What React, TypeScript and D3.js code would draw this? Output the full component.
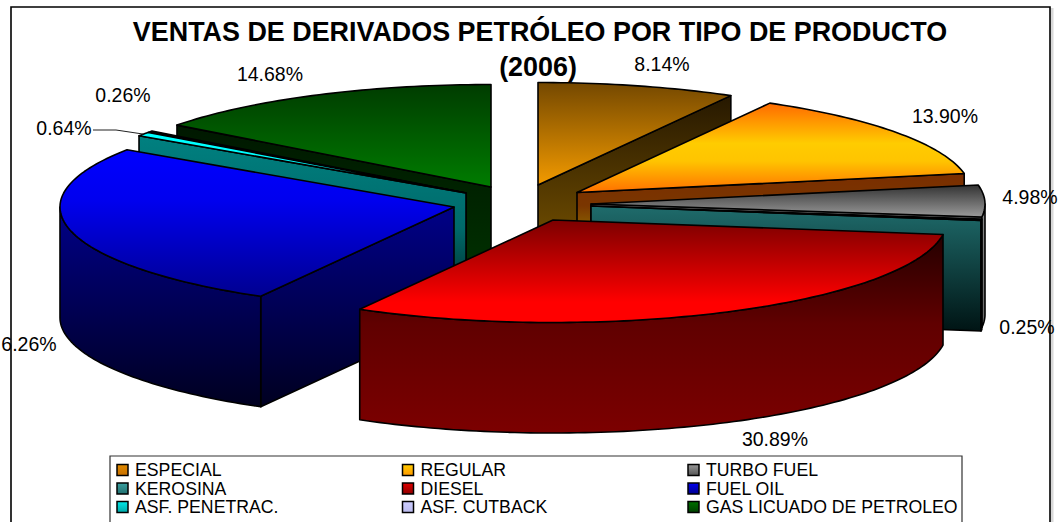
import React from "react";
import * as d3 from "d3";

const categories = ["ESPECIAL", "REGULAR", "TURBO FUEL", "KEROSINA", "DIESEL", "FUEL OIL", "ASF. PENETRAC.", "ASF. CUTBACK", "GAS LICUADO DE PETROLEO"];
const shares = [8.14, 13.9, 4.98, 0.25, 30.89, 26.26, 0.64, 0.26, 14.68];
const labelTexts = ["8.14%", "13.90%", "4.98%", "0.25%", "30.89%", "6.26%", "0.64%", "0.26%", "14.68%"];
const titleLines = ["VENTAS DE DERIVADOS PETRÓLEO POR TIPO DE PRODUCTO", "(2006)"];

// Layout and style, kept apart from the data
const W = 1058, H = 522;
const RX = 394, RY = 102.5, DEPTH = 110.5;
const apexes: [number, number][] = [[538, 185], [577, 192.5], [591, 204], [591, 206], [553, 220], [454, 207], [466, 193], [466, 193], [491, 187]];
const labelAnchors: [number, number][] = [[662, 64], [945, 116], [1030, 197], [1027, 327], [775, 439], [29, 344], [64, 128], [123, 95], [270, 74]];
const drawOrder = [8, 0, 1, 2, 3, 7, 6, 5, 4];

type Ramp = [number, string][];
const topRamps: Ramp[] = [
  [[0, "#744800"], [1, "#f29a00"]],
  [[0, "#ff6a00"], [0.45, "#ffcc00"], [0.65, "#ffc400"], [1, "#ff7000"]],
  [[0, "#333333"], [1, "#9a9a9a"]],
  [[0, "#1a1a1a"], [1, "#2a8080"]],
  [[0, "#7c0000"], [0.8, "#ff0000"], [1, "#ff0000"]],
  [[0, "#0000ff"], [0.35, "#0000ee"], [1, "#000090"]],
  [[0, "#00ffff"], [1, "#00ffff"]],
  [[0, "#000000"], [1, "#000000"]],
  [[0, "#003c00"], [1, "#007c00"]],
];
const wallRamps: Ramp[] = [
  [[0, "#261800"], [1, "#8a6000"]],
  [[0, "#7a2e00"], [0.25, "#7a3600"], [0.42, "#8a6000"], [1, "#8a6000"]],
  [[0, "#8a8a8a"], [1, "#666666"]],
  [[0, "#1f6c6c"], [1, "#001414"]],
  [[0, "#240000"], [0.45, "#600000"], [1, "#7c0000"]],
  [[0, "#000088"], [1, "#000020"]],
  [[0, "#008080"], [0.55, "#006a6a"], [1, "#002828"]],
  [[0, "#001800"], [1, "#001800"]],
  [[0, "#001800"], [1, "#003400"]],
];
const legendRamps: Ramp[] = [
  [[0, "#e08a00"], [1, "#c87000"]],
  [[0, "#ffcc00"], [1, "#ff9900"]],
  [[0, "#999999"], [1, "#555555"]],
  [[0, "#3aa0a0"], [1, "#227070"]],
  [[0, "#e00000"], [1, "#900000"]],
  [[0, "#0000f0"], [1, "#000090"]],
  [[0, "#00e8e8"], [1, "#00a8a8"]],
  [[0, "#ccccff"], [1, "#bbbbee"]],
  [[0, "#007000"], [1, "#004000"]],
];

const FONT = "'Liberation Sans', Arial, sans-serif";
const pie = d3.pie<number>().sort(null).value((d) => d).startAngle(0).endAngle(2 * Math.PI);
const slices = pie(shares);

const project = (apex: [number, number], a: number, drop = 0): [number, number] => [
  apex[0] + RX * Math.sin(a),
  apex[1] - RY * Math.cos(a) + drop,
];
const lineGen = d3.line();
const arcPts = (apex: [number, number], a0: number, a1: number, drop = 0) => {
  const n = Math.max(2, Math.ceil(Math.abs(a1 - a0) / 0.02));
  return d3.range(n + 1).map((i) => project(apex, a0 + ((a1 - a0) * i) / n, drop));
};

const radialVisible = (a: number, interior: number) => {
  const dx = Math.sin(a) * RX, dy = -Math.cos(a) * RY;
  const ex = Math.sin(interior) * RX, ey = -Math.cos(interior) * RY;
  const cross = dx * ey - dy * ex;
  return dx * cross < -1e-6;
};

const Grad = ({ id, ramp }: { id: string; ramp: Ramp }) => (
  <linearGradient id={id} x1="0" y1="0" x2="0" y2="1">
    {ramp.map(([o, c], i) => (
      <stop key={i} offset={o} stopColor={c} />
    ))}
  </linearGradient>
);

export default function App() {
  const faces = drawOrder.map((i) => {
    const s = slices[i];
    const apex = apexes[i];
    const items: React.ReactNode[] = [];
    const radial = (a: number, key: string) => {
      const outer = project(apex, a);
      const pts: [number, number][] = [apex, outer, [outer[0], outer[1] + DEPTH], [apex[0], apex[1] + DEPTH]];
      items.push(<path key={key} d={lineGen(pts) + "Z"} fill={`url(#wall${i})`} stroke="#000" strokeWidth={1.6} strokeLinejoin="round" />);
    };
    const mid = (s.startAngle + s.endAngle) / 2;
    if (radialVisible(s.startAngle, mid)) radial(s.startAngle, "rs");
    if (radialVisible(s.endAngle, mid)) radial(s.endAngle, "re");
    const w0 = Math.max(s.startAngle, Math.PI / 2);
    const w1 = Math.min(s.endAngle, (3 * Math.PI) / 2);
    if (w1 > w0) {
      const upper = arcPts(apex, w0, w1);
      const lower = arcPts(apex, w1, w0, DEPTH);
      items.push(<path key="o" d={lineGen([...upper, ...lower]) + "Z"} fill={`url(#wall${i})`} stroke="#000" strokeWidth={1.6} strokeLinejoin="round" />);
    }
    const top = [apex, ...arcPts(apex, s.startAngle, s.endAngle)];
    items.push(<path key="t" d={lineGen(top as [number, number][]) + "Z"} fill={`url(#top${i})`} stroke="#000" strokeWidth={1.6} strokeLinejoin="round" />);
    return <g key={i}>{items}</g>;
  });

  const legendX = d3.scalePoint<number>().domain([0, 1, 2]).range([117, 688]);
  const legendY = d3.scalePoint<number>().domain([0, 1, 2]).range([464.5, 501.5]);
  const cyanOuter = project(apexes[6], (slices[6].startAngle + slices[6].endAngle) / 2);

  return (
    <svg width={W} height={H} viewBox={`0 0 ${W} ${H}`} style={{ position: "absolute", left: 0, top: 0, display: "block", background: "#fff" }}>
      <defs>
        {topRamps.map((r, i) => <Grad key={i} id={`top${i}`} ramp={r} />)}
        {wallRamps.map((r, i) => <Grad key={i} id={`wall${i}`} ramp={r} />)}
        {legendRamps.map((r, i) => <Grad key={i} id={`leg${i}`} ramp={r} />)}
      </defs>

      <path d={lineGen([[1052, 8], [1052, H]]) ?? ""} stroke="#d8d8d8" strokeWidth={3} fill="none" />
      <path d={lineGen([[11, H], [11, 7], [1050, 7], [1050, H]]) ?? ""} stroke="#000" strokeWidth={1.6} fill="none" />

      <g fontFamily={FONT} fontWeight="bold" fontSize={26.9} textAnchor="middle" fill="#000">
        <text x={540} y={41}>{titleLines[0]}</text>
        <text x={538} y={76}>{titleLines[1]}</text>
      </g>

      {faces}

      <path d={lineGen([[93, 130], [116, 130], cyanOuter]) ?? ""} stroke="#222" strokeWidth={1} fill="none" />

      <g fontFamily={FONT} fontSize={19.5} fill="#000" textAnchor="middle">
        {labelTexts.map((t, i) => (
          <text key={i} x={labelAnchors[i][0]} y={labelAnchors[i][1] + 7}>{t}</text>
        ))}
      </g>

      <path d={lineGen([[110, H + 4], [110, 456], [962, 456], [962, H + 4]]) ?? ""} stroke="#333" strokeWidth={1.2} fill="#fff" />
      <g fontFamily={FONT} fontSize={17.7} fill="#000">
        {categories.map((c, i) => {
          const col = i % 3, row = Math.floor(i / 3);
          const x = legendX(col)!, y = legendY(row)!;
          return (
            <g key={c}>
              <rect x={x} y={y} width={11} height={11} fill={`url(#leg${i})`} stroke="#000" strokeWidth={1.5} />
              <text x={x + 18} y={y + 11.5}>{c}</text>
            </g>
          );
        })}
      </g>
    </svg>
  );
}
